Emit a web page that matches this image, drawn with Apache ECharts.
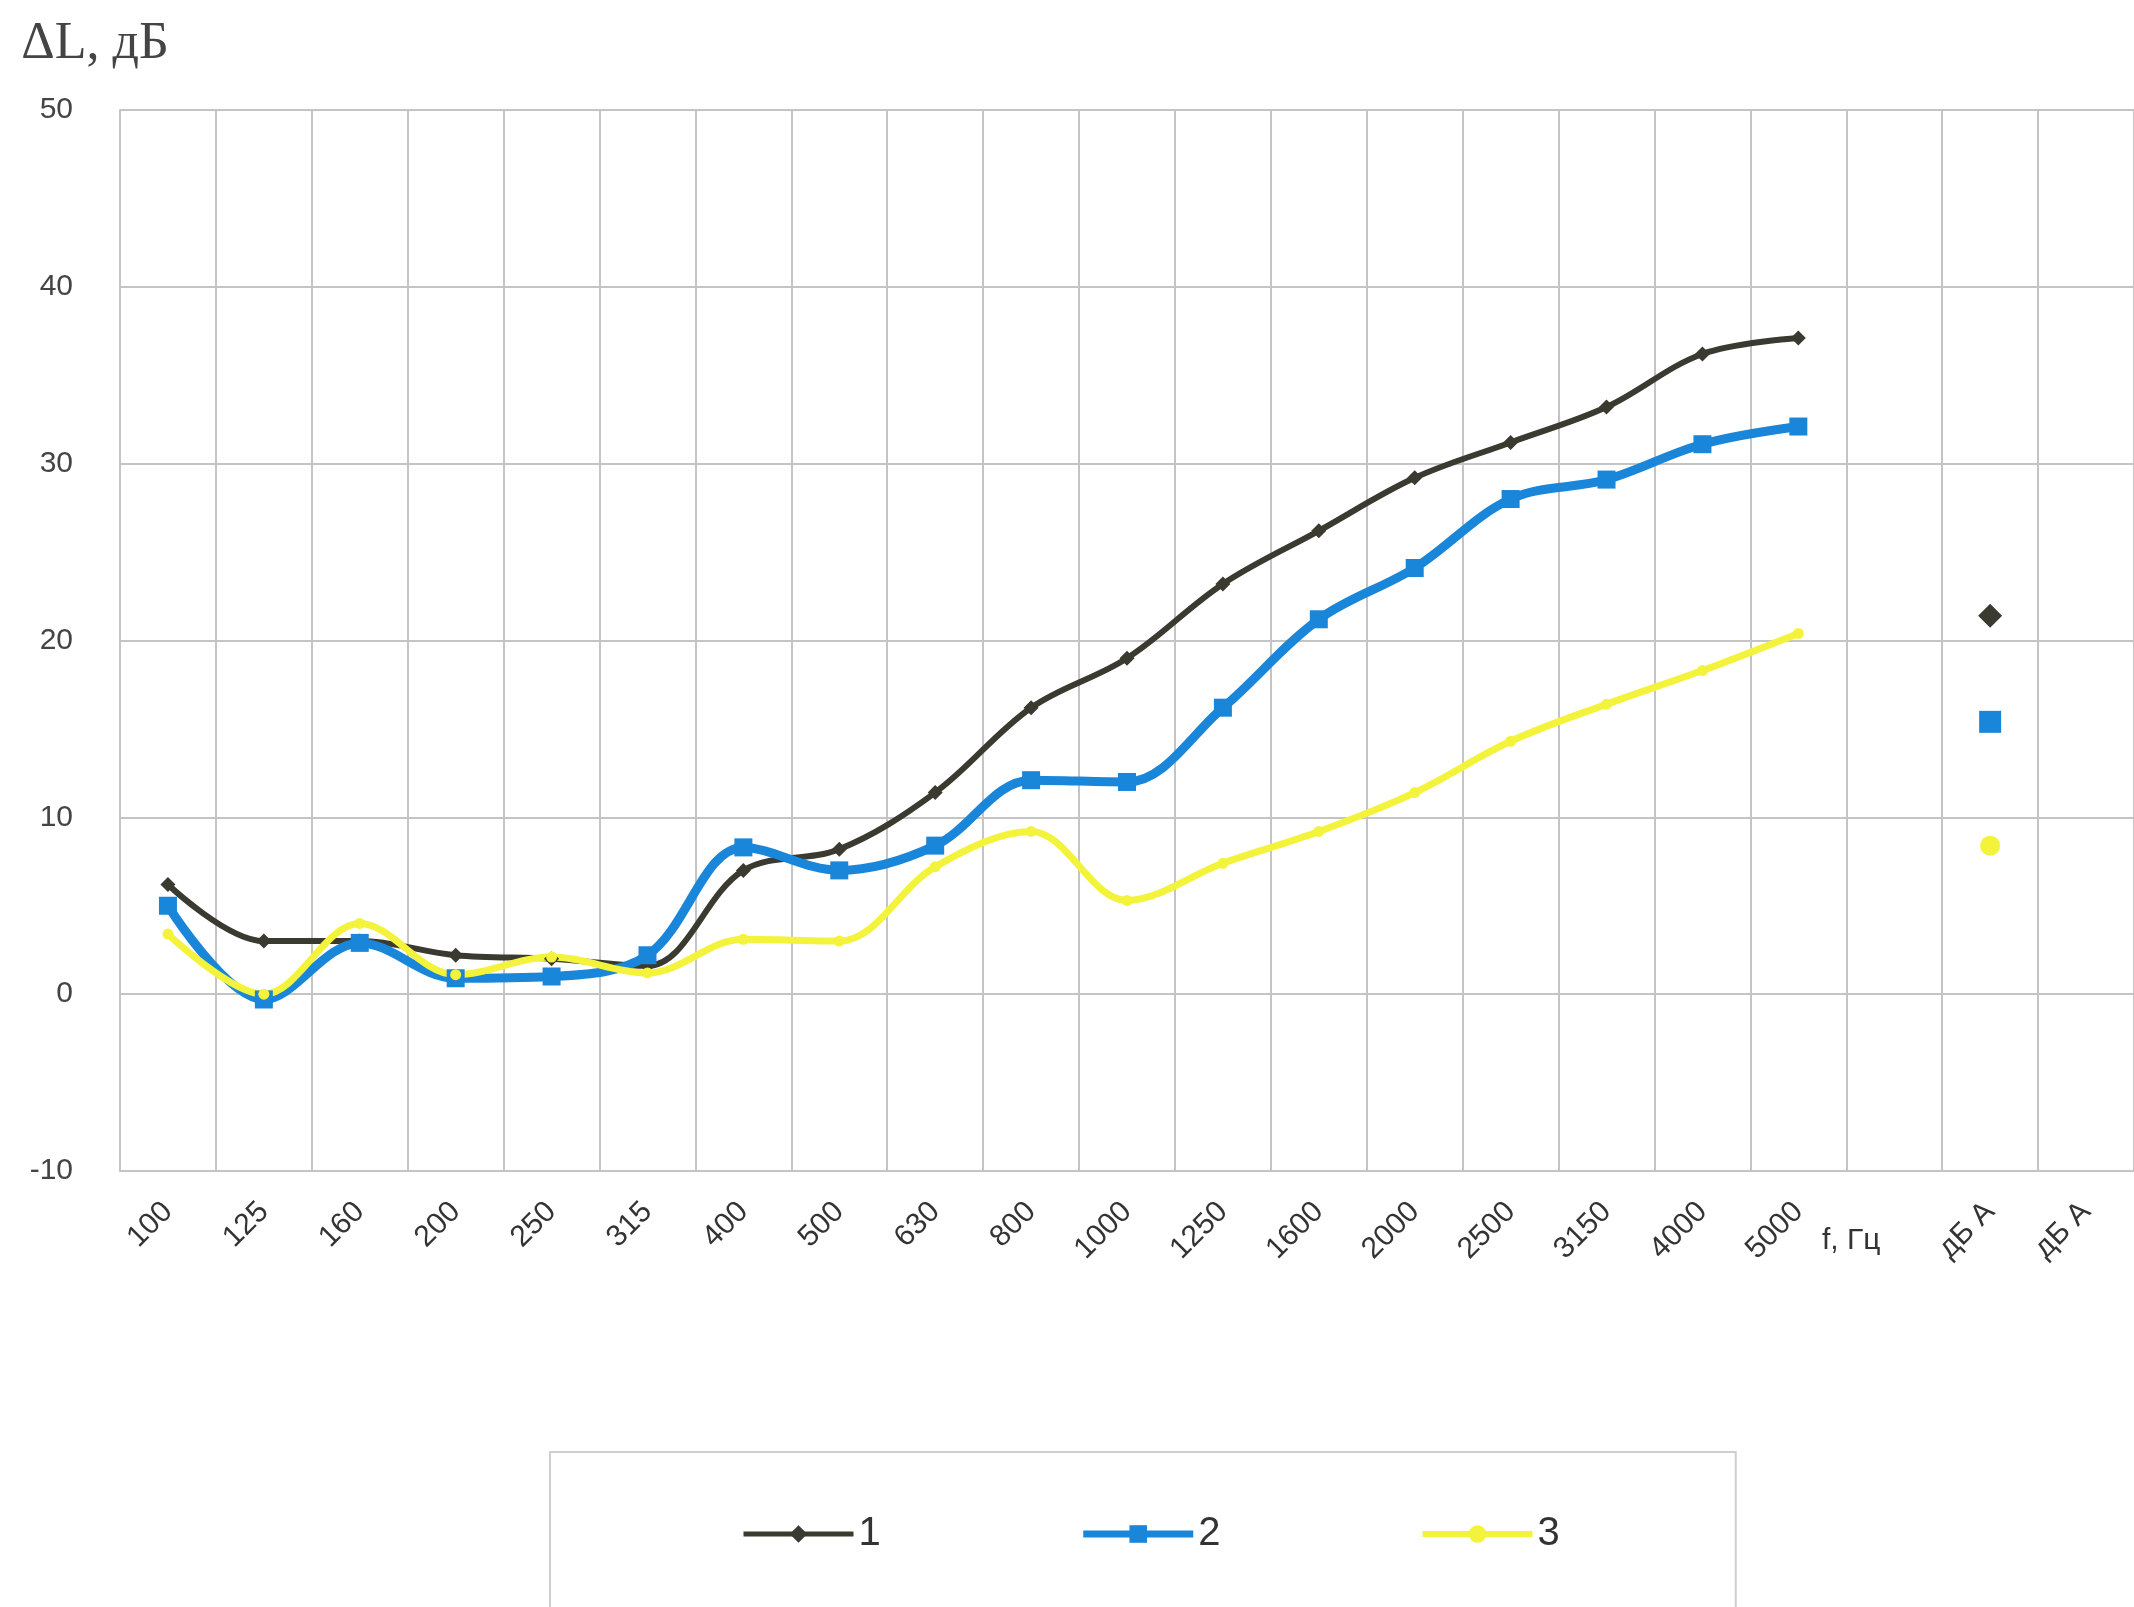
<!DOCTYPE html>
<html>
<head>
<meta charset="utf-8">
<script src="https://cdn.jsdelivr.net/npm/echarts@6/dist/echarts.min.js"></script>
<style>
html, body { margin: 0; padding: 0; background: #fff; }
#chart { width: 2134px; height: 1607px; }
</style>
</head>
<body>
<div id="chart"></div>
<script>
// octave-band frequencies, Hz
var freqs = ['100', '125', '160', '200', '250', '315', '400', '500', '630', '800',
    '1000', '1250', '1600', '2000', '2500', '3150', '4000', '5000'];
// extra columns after the spectrum
var extraCats = ['', 'дБ А', 'дБ А'];

var series1 = [6.2, 3.0, 3.0, 2.2, 2.0, 1.6, 7.0, 8.2, 11.4, 16.2, 19.0, 23.2, 26.2, 29.2, 31.2, 33.2, 36.2, 37.1];
var series2 = [5.0, -0.3, 2.9, 0.9, 1.0, 2.2, 8.3, 7.0, 8.4, 12.1, 12.0, 16.2, 21.2, 24.1, 28.0, 29.1, 31.1, 32.1];
var series3 = [3.4, 0.0, 4.0, 1.1, 2.1, 1.2, 3.1, 3.0, 7.2, 9.2, 5.3, 7.4, 9.2, 11.4, 14.3, 16.4, 18.3, 20.4];
// single-number ratings, дБА
var dbaValues = [21.4, 15.4, 8.4];

var names = ['1', '2', '3'];
var colors = ['#3b3a30', '#1a86d9', '#f4f33c'];
var symbols = ['diamond', 'rect', 'circle'];

var chart = echarts.init(document.getElementById('chart'));

function buildData(vals, dba, bigSize) {
    var d = vals.slice();
    d.push(null);
    d.push({ value: dba, symbolSize: bigSize });
    d.push(null);
    return d;
}

var allSeries = [series1, series2, series3];
var lineWidths = [6, 9, 7];
var symSizes = [15, 18, 11];
var bigSizes = [24, 22, 20];

var seriesList = allSeries.map(function (vals, i) {
    return {
        name: names[i],
        type: 'line',
        smooth: 0.35,
        symbol: symbols[i],
        symbolSize: symSizes[i],
        showAllSymbol: true,
        connectNulls: false,
        data: buildData(vals, dbaValues[i], bigSizes[i]),
        itemStyle: { color: colors[i] },
        lineStyle: { color: colors[i], width: lineWidths[i] }
    };
});

var legendData = names.map(function (n, i) {
    return {
        name: n,
        lineStyle: { color: colors[i], width: [5, 7, 6][i] }
    };
});

var option = {
    animation: false,
    backgroundColor: '#fff',
    grid: {
        left: 120,
        top: 110,
        width: 2033,
        height: 1061,
        containLabel: false
    },
    xAxis: {
        type: 'category',
        boundaryGap: true,
        data: freqs.concat(extraCats),
        axisLine: { onZero: false, lineStyle: { color: '#c4c4c4', width: 2 } },
        axisTick: { show: false },
        splitLine: { show: true, interval: 0, lineStyle: { color: '#c4c4c4', width: 2 } },
        axisLabel: {
            interval: 0,
            rotate: 45,
            margin: 36,
            fontSize: 30,
            color: '#333',
            fontFamily: 'Liberation Sans'
        }
    },
    yAxis: {
        type: 'value',
        min: -10,
        max: 50,
        interval: 10,
        name: 'ΔL, дБ',
        nameLocation: 'end',
        nameGap: 40,
        nameTextStyle: {
            fontFamily: 'Liberation Serif',
            fontSize: 52,
            color: '#444',
            padding: [0, 50, 0, 0]
        },
        axisLine: { show: true, lineStyle: { color: '#c4c4c4', width: 2 } },
        axisTick: { show: false },
        splitLine: { lineStyle: { color: '#c4c4c4', width: 2 } },
        axisLabel: {
            margin: 47,
            fontSize: 30,
            color: '#444',
            fontFamily: 'Liberation Sans'
        }
    },
    legend: {
        data: legendData,
        left: 550,
        top: 1452,
        padding: [62, 176, 120, 191],
        itemGap: 199,
        itemWidth: 110,
        itemHeight: 22,
        borderColor: '#cfcfcf',
        borderWidth: 2,
        textStyle: {
            fontFamily: 'Liberation Sans Narrow, Liberation Sans',
            fontSize: 40,
            color: '#333'
        }
    },
    graphic: [{
        type: 'text',
        left: 1822,
        top: 1226,
        style: {
            text: 'f, Гц',
            font: '30px "Liberation Sans"',
            fill: '#333'
        }
    }],
    series: seriesList
};

chart.setOption(option);
</script>
</body>
</html>
